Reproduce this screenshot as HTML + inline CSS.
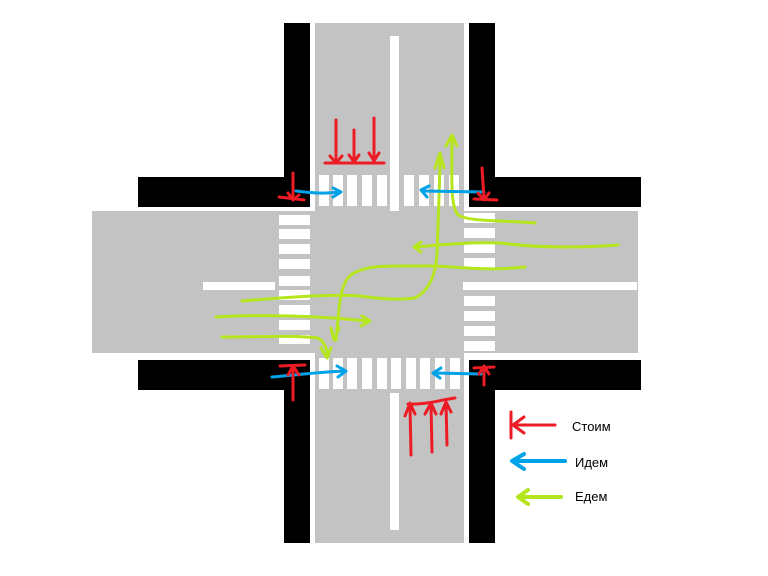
<!DOCTYPE html>
<html><head><style>body{margin:0;background:#fff}svg{display:block}</style></head><body>
<svg width="768" height="576" xmlns="http://www.w3.org/2000/svg" font-family="Liberation Sans, sans-serif">
<rect width="768" height="576" fill="#fff"/>
<!-- black sidewalks -->
<rect x="284" y="23" width="26" height="520" fill="#000"/>
<rect x="469" y="23" width="26" height="520" fill="#000"/>
<rect x="138" y="177" width="503" height="30" fill="#000"/>
<rect x="138" y="360" width="503" height="30" fill="#000"/>
<!-- white gaps -->
<rect x="310" y="23" width="159" height="520" fill="#fff"/>
<rect x="88" y="207" width="556" height="153" fill="#fff"/>
<!-- gray roads -->
<rect x="315" y="23" width="149" height="520" fill="#c3c3c3"/>
<rect x="92" y="211" width="546" height="142" fill="#c3c3c3"/>
<!-- center lines -->
<rect x="390" y="36" width="9" height="175" fill="#fff"/>
<rect x="390" y="393" width="9" height="137" fill="#fff"/>
<rect x="203" y="282" width="72" height="8" fill="#fff"/>
<rect x="463" y="282" width="174" height="8" fill="#fff"/>
<!-- crosswalks -->
<g fill="#fff">
<rect x="319" y="175" width="10" height="31"/><rect x="333" y="175" width="10" height="31"/><rect x="347" y="175" width="10" height="31"/><rect x="362" y="175" width="10" height="31"/><rect x="377" y="175" width="10" height="31"/><rect x="404" y="175" width="10" height="31"/><rect x="419" y="175" width="10" height="31"/><rect x="434" y="175" width="10" height="31"/><rect x="449" y="175" width="10" height="31"/>
<rect x="319" y="358" width="10" height="31"/><rect x="333" y="358" width="10" height="31"/><rect x="347" y="358" width="10" height="31"/><rect x="362" y="358" width="10" height="31"/><rect x="377" y="358" width="10" height="31"/><rect x="391" y="358" width="10" height="31"/><rect x="406" y="358" width="10" height="31"/><rect x="420" y="358" width="10" height="31"/><rect x="435" y="358" width="10" height="31"/><rect x="450" y="358" width="10" height="31"/>
<rect x="279" y="215" width="31" height="10"/><rect x="279" y="229" width="31" height="10"/><rect x="279" y="244" width="31" height="10"/><rect x="279" y="259" width="31" height="10"/><rect x="279" y="276" width="31" height="10"/><rect x="279" y="290" width="31" height="10"/><rect x="279" y="305" width="31" height="10"/><rect x="279" y="320" width="31" height="10"/><rect x="279" y="335" width="31" height="9"/>
<rect x="464" y="213" width="31" height="10"/><rect x="464" y="228" width="31" height="10"/><rect x="464" y="243" width="31" height="10"/><rect x="464" y="258" width="31" height="10"/><rect x="464" y="296" width="31" height="10"/><rect x="464" y="311" width="31" height="10"/><rect x="464" y="326" width="31" height="10"/><rect x="464" y="341" width="31" height="10"/>
</g>
<!-- green paths -->
<g stroke="#b5e61d" stroke-width="3" fill="none" stroke-linecap="round" stroke-linejoin="round">
<path d="M535 223 C500 220 470 222 458 215 C450 205 452 180 452 137 M446 146 L452 135 L457 146"/>
<path d="M618 245 C580 248 540 248 500 243 C470 242 440 245 414 247 M421 242 L414 247 L421 252"/>
<path d="M525 267 C480 272 450 265 420 266 C390 266 370 265 356 272 C340 278 340 300 336 340 M331 328 L334 340 L339 328"/>
<path d="M242 301 C290 297 330 294 360 296 C380 299 400 300 415 298 C430 290 435 275 437 255 C438 220 440 180 440 155 M435 168 L440 153 L444 168"/>
<path d="M216 317 C260 314 320 316 368 321 M362 316 L370 321 L361 326"/>
<path d="M222 337 C260 337 290 335 318 338 C325 342 328 352 328 357 M321 348 L327 358 L331 348"/>
</g>
<!-- blue arrows -->
<g stroke="#00a2e8" stroke-width="3" fill="none" stroke-linecap="round" stroke-linejoin="round">
<path d="M296 191 C310 193 325 194 340 192 M333 188 L341 192 L333 197"/>
<path d="M484 192 L422 191 M429 186 L421 190 L427 197"/>
<path d="M272 377 C295 375 320 372 345 371 M337 366 L346 371 L338 377"/>
<path d="M481 374 L434 373 M441 368 L433 373 L440 378"/>
</g>
<!-- red arrows -->
<g stroke="#ed1c24" stroke-width="3" fill="none" stroke-linecap="round" stroke-linejoin="round">
<path d="M293 173 L293 198 M288 193 L293 200 L299 195 M279 197 L304 200"/>
<path d="M482 168 L484 198 M478 193 L484 200 L489 193 M474 199 L497 200"/>
<path d="M336 120 L336 162 M330 156 L336 163 L342 156"/>
<path d="M354 130 L354 160 M349 155 L354 162 L359 155"/>
<path d="M374 118 L374 160 M369 153 L374 161 L379 153"/>
<path d="M325 163 L384 163"/>
<path d="M293 400 L293 368 M288 375 L293 366 L299 375 M280 366 L305 365"/>
<path d="M484 385 L484 367 M479 374 L484 366 L489 374 M474 368 L494 367"/>
<path d="M411 455 L410 405 M405 416 L410 403 L415 414"/>
<path d="M432 452 L431 404 M425 414 L431 403 L436 414"/>
<path d="M447 445 L446 403 M441 414 L446 402 L451 412"/>
<path d="M408 404 C425 405 440 400 455 398"/>
<path d="M555 425 L515 425 M524 417 L513 425 L524 433 M511 412 L511 438"/>
</g>
<path d="M565 461 L514 461 M524 454 L512 461 L524 469" stroke="#00a2e8" stroke-width="4" fill="none" stroke-linecap="round" stroke-linejoin="round"/>
<path d="M561 497 L519 497 M528 490 L518 497 L528 504" stroke="#b5e61d" stroke-width="4" fill="none" stroke-linecap="round" stroke-linejoin="round"/>
<g font-size="13" fill="#000">
<text x="572" y="431">Стоим</text>
<text x="575" y="467">Идем</text>
<text x="575" y="501">Едем</text>
</g>
</svg>
</body></html>
